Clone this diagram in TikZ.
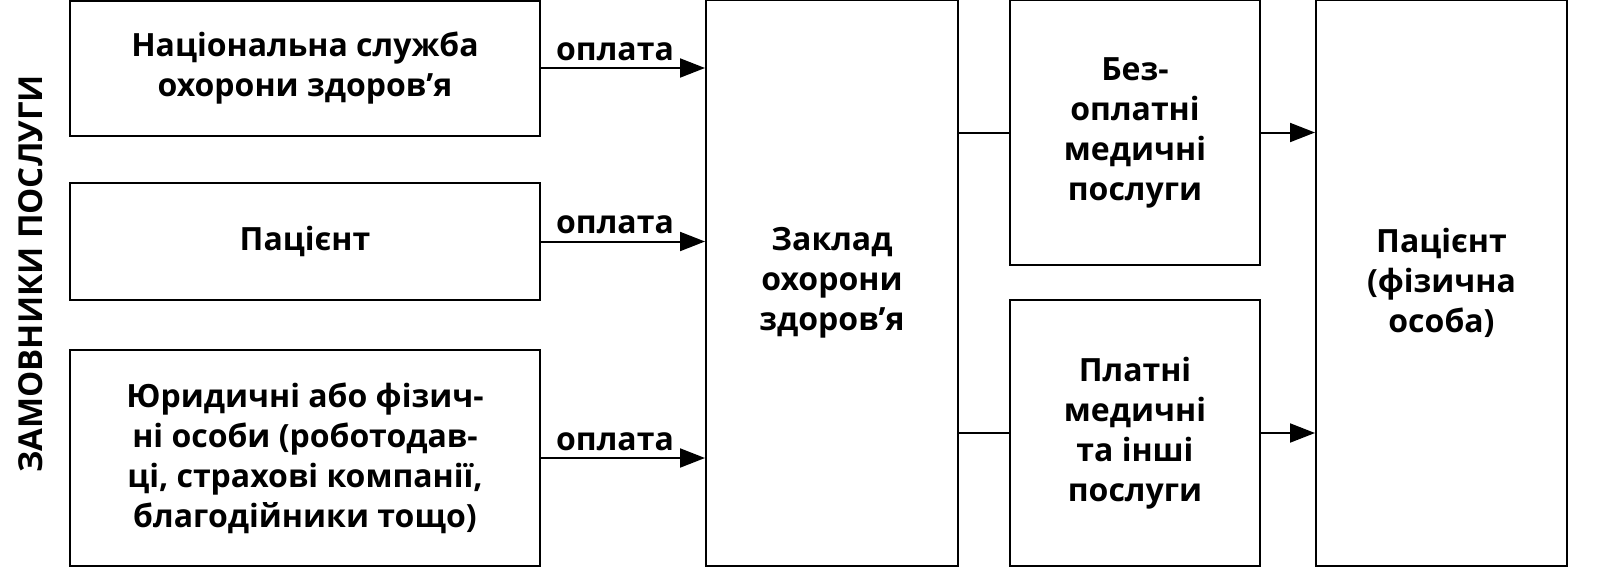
\documentclass[tikz,border=0pt]{standalone}
\usepackage{fontspec}
\setmainfont{Open Sans}
\usetikzlibrary{arrows.meta}

\tikzset{
  px/.style={x=0.5pt, y=-0.5pt},
  boite/.style={draw, line width=1pt, align=center, inner sep=0pt,
    font=\bfseries\fontsize{16}{20}\selectfont},
  fleche/.style={line width=1pt, -{Triangle[length=12.5pt, width=9.5pt]}},
  paiement/.style={above, xshift=-4pt, font=\bfseries\fontsize{16}{20}\selectfont}
}

\begin{document}
\begin{tikzpicture}[px]
    \useasboundingbox (0, 0) rectangle (1600, 579);

    % Titre vertical
    \node[rotate=90, font=\bfseries\fontsize{16.5}{20}\selectfont] (titre) at (31, 274)
    {ЗАМОВНИКИ ПОСЛУГИ};

    % Commanditaires
    \node[boite, minimum width=235pt, minimum height=67.5pt] (nszu) at (305, 68)
    {Національна служба\\охорони здоров’я};
    \node[boite, minimum width=235pt, minimum height=58.5pt] (patient) at (305, 241.5)
    {Пацієнт};
    \node[boite, minimum width=235pt, minimum height=108pt] (juridique) at (305, 458)
    {Юридичні або фізич-\\ні особи (роботодав-\\ці, страхові компанії,\\благодійники тощо)};

    % Etablissement
    \node[boite, minimum width=126pt, minimum height=283pt] (zaklad) at (832, 283)
    {Заклад\\охорони\\здоров’я};

    % Services
    \node[boite, minimum width=125pt, minimum height=132.5pt] (gratuit) at (1135, 132.5)
    {Без-\\оплатні\\медичні\\послуги};
    \node[boite, minimum width=125pt, minimum height=133pt] (payant) at (1135, 433)
    {Платні\\медичні\\та інші\\послуги};

    % Personne physique
    \node[boite, minimum width=125.5pt, minimum height=283pt] (personne) at (1441.5, 283)
    {Пацієнт\\(фізична\\особа)};

    % Paiements
    \foreach \src in {nszu, patient, juridique} {
      \draw[fleche] (\src.east) -- (\src.east -| zaklad.west)
      node[paiement, pos=0.5] {оплата};
    }

    % Services rendus
    \foreach \svc in {gratuit, payant} {
      \draw[line width=1pt] (\svc.west -| zaklad.east) -- (\svc.west);
      \draw[fleche] (\svc.east) -- (\svc.east -| personne.west);
    }
  \end{tikzpicture}
\end{document}
